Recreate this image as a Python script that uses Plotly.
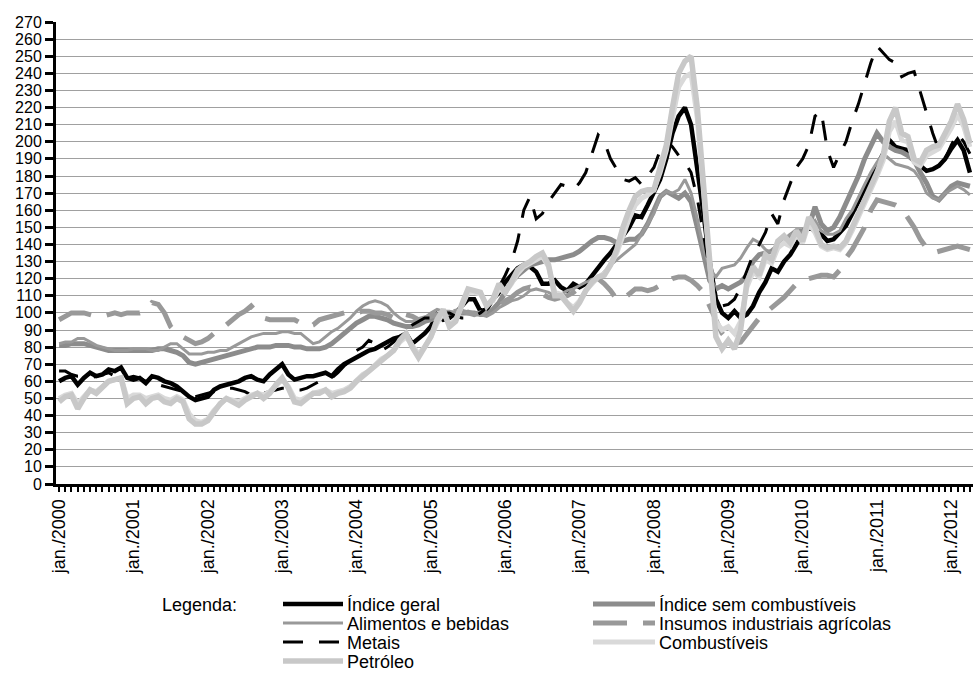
import plotly.graph_objects as go

# ---------------- data ----------------
months_pt = ['jan.', 'fev.', 'mar.', 'abr.', 'mai.', 'jun.', 'jul.', 'ago.', 'set.', 'out.', 'nov.', 'dez.']
categories = [f"{m}/{y}" for y in range(2000, 2013) for m in months_pt][:148]
tick_labels = [c if c.startswith('jan.') else '' for c in categories]
y_ticks = list(range(0, 271, 10))

indice_geral = [
    60, 62, 63, 58, 62, 65, 63, 64, 67, 66, 68, 62,
    61, 62, 59, 63, 62, 60, 59, 57, 54, 51, 49, 50,
    51, 55, 57, 58, 59, 60, 62, 63, 61, 60, 64, 67,
    70, 64, 61, 62, 63, 63, 64, 65, 63, 67, 70, 72,
    74, 76, 78, 79, 81, 83, 85, 86, 88, 82, 85, 88,
    92, 99, 96, 97, 100, 104, 108, 108, 101, 102, 108, 112,
    118, 122, 126, 128, 127, 124, 117, 117, 119, 115, 113, 117,
    115, 117, 122, 127, 131, 135, 140, 144, 150, 157, 156, 163,
    170, 178, 190, 205, 215, 220, 210, 185, 158, 130, 108, 100,
    97, 101, 97, 99, 104, 112, 118, 126, 124, 130, 134, 140,
    146, 150, 148, 146, 142, 143, 147, 151, 158, 165, 172, 178,
    185, 193, 201, 197, 196, 195, 190, 186, 183, 184, 186, 190,
    196, 201, 195, 182,
]

indice_sem_combustiveis = [
    81, 81, 82, 82, 82, 81, 80, 79, 78, 78, 78, 78,
    78, 78, 78, 78, 79, 79, 78, 77, 75, 71, 70, 71,
    72, 73, 74, 75, 76, 77, 78, 79, 80, 80, 80, 81,
    81, 81, 80, 80, 79, 79, 79, 80, 82, 85, 88, 91,
    94, 96, 98, 98, 97, 96, 94, 93, 92, 92, 93, 95,
    96, 98, 99, 100, 100, 100, 100, 100, 99, 99, 102, 106,
    112, 118, 122, 125, 128, 129, 130, 131, 131, 132, 133, 134,
    136, 139, 142, 144, 144, 143, 141, 142, 143, 143, 146, 152,
    160, 168, 171, 169, 167, 170, 165, 150, 133, 119, 114, 116,
    114, 116, 118, 122, 130, 134, 135, 136, 139, 141, 145, 148,
    148, 150, 162, 152, 148, 150, 156, 164, 172, 180, 190, 198,
    205, 200, 197, 195, 194, 192, 189, 182, 176, 168, 166, 170,
    174, 176, 175, 174,
]

alimentos_bebidas = [
    82, 83, 83, 85, 85, 83, 81, 80, 79, 78, 78, 78,
    79, 79, 79, 78, 78, 80, 82, 82, 79, 76, 76, 76,
    77, 77, 78, 78, 80, 82, 84, 86, 87, 88, 88, 88,
    89, 89, 88, 88, 85, 82, 83, 86, 89, 91, 94, 97,
    101, 104, 106, 107, 106, 104, 100, 97, 95, 95, 95, 97,
    100, 102, 101, 101, 100, 100, 101, 100, 99, 98, 100, 103,
    105, 107, 108, 110, 113, 114, 113, 112, 110, 111, 113, 114,
    116, 118, 119, 120, 124, 128, 131, 134, 137, 140, 146, 152,
    158, 168, 171, 170, 172, 178, 170, 155, 138, 126, 121, 126,
    127, 128, 132, 138, 143, 141, 137, 135, 138, 143, 146, 146,
    147, 150, 154, 148, 146, 146, 148, 155, 160, 168, 175, 182,
    188, 193, 190, 187, 186, 185, 183, 178, 170, 167, 166, 170,
    172, 174, 172, 169,
]

insumos_agricolas = [
    96, 98, 100, 100, 100, 99, 98, 98, 99, 100, 99, 100,
    100, 100, 101, 106, 105, 100, 92, 88, 86, 84, 82, 83,
    85, 88, 91, 93, 96, 99, 101, 104, 100, 97, 96, 96,
    96, 96, 96, 94, 92, 93, 96, 97, 98, 99, 100, 101,
    100, 101, 101, 100, 100, 99, 97, 96, 99, 98, 96, 97,
    98, 99, 100, 100, 101, 101, 100, 99, 100, 101, 102, 104,
    107, 109, 112, 114, 115, 113, 111, 109, 108, 109, 110, 112,
    115, 117, 119, 120, 117, 113, 108, 108, 111, 114, 114, 113,
    114, 116, 118, 120, 121, 121, 119, 116, 112, 104, 95, 88,
    84, 82, 83, 88, 93, 97, 100, 103, 106, 109, 113, 117,
    119, 120, 121, 122, 122, 121, 125, 132, 137, 143, 150, 160,
    166, 165, 164, 163, 161, 156, 150, 143, 138, 135, 136, 137,
    138, 139, 138, 137,
]

metais = [
    66, 66, 64, 63, 63, 62, 63, 64, 65, 63, 61, 62,
    63, 62, 60, 59, 58, 57, 56, 55, 54, 52, 51, 52,
    53, 54, 55, 56, 56, 55, 54, 52, 52, 53, 54, 55,
    56, 56, 55, 55, 56, 58, 60, 61, 62, 65, 69, 72,
    78, 80, 84, 82, 78, 80, 83, 86, 90, 93, 95, 97,
    97, 98, 100, 100, 98, 97, 97, 98, 100, 103, 108, 115,
    122, 130, 142, 160, 168, 155, 158, 165, 170, 175, 174, 172,
    176, 182, 193, 204, 200, 190, 184, 178, 177, 179, 175, 180,
    185, 195, 201, 197, 192, 188, 182, 167, 145, 125, 110, 104,
    105, 108, 115, 125, 134, 140, 147, 158, 152, 166, 175, 185,
    190, 198, 215, 218, 195, 185, 193, 200, 212, 222, 234, 246,
    256, 252, 248, 246, 238, 240, 241, 229, 217, 205, 195, 190,
    198, 205, 200, 193,
]

combustiveis = [
    50, 52, 53, 47, 51, 55, 54, 57, 60, 61, 62, 50,
    52, 52, 50, 51, 52, 50, 49, 51, 49, 41, 37, 36,
    38, 43, 47, 50, 49, 48, 50, 52, 53, 52, 54, 58,
    61, 57, 50, 49, 51, 53, 54, 55, 53, 54, 55, 57,
    61, 64, 66, 70, 73, 75, 78, 83, 86, 81, 76, 80,
    86, 94, 100, 93, 96, 104, 112, 112, 111, 105, 107, 114,
    112, 117, 123, 127, 129, 131, 133, 127, 112, 111, 106, 103,
    107, 113, 117, 121, 123, 128, 135, 146, 155, 163, 167, 169,
    172, 182, 195, 214, 232, 238, 240, 214, 170, 128, 95, 90,
    92, 88, 95, 115, 124, 121, 131, 129, 138, 141, 139, 146,
    141, 152, 147, 139, 137, 138, 137, 141, 148, 156, 164, 171,
    180, 189, 206, 212, 201, 200, 188, 186, 192, 194, 196, 202,
    208, 216, 209, 197,
]

petroleo = [
    48, 51, 52, 44, 50, 55, 53, 56, 60, 61, 62, 47,
    50, 51, 47, 50, 51, 48, 47, 50, 48, 38, 35, 35,
    37, 42, 47, 50, 48, 46, 49, 51, 53, 50, 53, 58,
    62, 56, 48, 47, 50, 53, 53, 55, 51, 53, 54, 56,
    60, 63, 66, 70, 73, 75, 78, 84, 88, 80, 74, 80,
    86, 96, 102, 92, 95, 105, 114, 113, 112, 104, 108, 117,
    112, 118, 125, 128, 130, 133, 135, 128, 110, 110, 105, 101,
    106, 113, 118, 121, 122, 128, 137, 150, 160, 168, 171, 172,
    172, 184, 198, 220, 240, 247, 250, 220, 172, 125, 86, 79,
    84, 79, 90, 118, 127, 122, 134, 131, 142, 145, 141, 148,
    142, 156, 150, 140, 138, 139, 138, 142, 150, 158, 166, 174,
    182, 192, 212, 220, 205, 203, 190, 188, 195, 197, 198, 205,
    212, 222, 213, 199,
]

series_names = [
    'Índice geral', 'Índice sem combustíveis', 'Alimentos e bebidas',
    'Insumos industriais agrícolas', 'Metais', 'Combustíveis', 'Petróleo',
]
series_values = [
    indice_geral, indice_sem_combustiveis, alimentos_bebidas,
    insumos_agricolas, metais, combustiveis, petroleo,
]

# ---------------- styles ----------------
styles = {
    'Índice geral': dict(color='#000000', width=4.5, dash='solid'),
    'Índice sem combustíveis': dict(color='#8c8c8c', width=5, dash='solid'),
    'Alimentos e bebidas': dict(color='#999999', width=3, dash='solid'),
    'Insumos industriais agrícolas': dict(color='#999999', width=5, dash='34px,16px'),
    'Metais': dict(color='#000000', width=3, dash='20px,16px'),
    'Combustíveis': dict(color='#d9d9d9', width=5, dash='solid'),
    'Petróleo': dict(color='#c8c8c8', width=5.5, dash='solid'),
}
# legend layout: (column, row)
legend_pos = {
    'Índice geral': (0, 0), 'Alimentos e bebidas': (0, 1), 'Metais': (0, 2), 'Petróleo': (0, 3),
    'Índice sem combustíveis': (1, 0), 'Insumos industriais agrícolas': (1, 1), 'Combustíveis': (1, 2),
}

FONT = 'Liberation Sans, Arial, Helvetica, sans-serif'
W, H = 973, 675
ML, MR, MT, MB = 56, 0, 22, 191
PW, PH = W - ML - MR, H - MT - MB


def xp(px):
    return (px - ML) / PW


def yp(py):
    return (H - MB - py) / PH


fig = go.Figure()
for name, vals in zip(series_names, series_values):
    st = styles[name]
    fig.add_trace(go.Scatter(
        x=categories, y=vals, mode='lines', name=name, showlegend=False,
        line=dict(color=st['color'], width=st['width'], dash=st['dash']),
        hoverinfo='skip',
    ))

# manual legend (samples + labels)
shapes = []
annotations = [dict(
    text='Legenda:', x=xp(160), y=yp(605), xref='paper', yref='paper',
    xanchor='left', yanchor='middle', showarrow=False,
    font=dict(family=FONT, size=18, color='#000000'),
)]
col_x = [(283, 343, 345), (593, 655, 657)]
row_y = [604, 623, 642, 661]
for name in series_names:
    c, r = legend_pos[name]
    x0, x1, xt = col_x[c]
    st = styles[name]
    shapes.append(dict(
        type='line', xref='paper', yref='paper',
        x0=xp(x0), x1=xp(x1), y0=yp(row_y[r]), y1=yp(row_y[r]),
        line=dict(color=st['color'], width=st['width'], dash=st['dash']),
    ))
    annotations.append(dict(
        text=name, x=xp(xt), y=yp(row_y[r] + 1), xref='paper', yref='paper',
        xanchor='left', yanchor='middle', showarrow=False,
        font=dict(family=FONT, size=18, color='#000000'),
    ))

fig.update_layout(
    width=W, height=H,
    margin=dict(l=ML, r=MR, t=MT, b=MB, pad=0),
    paper_bgcolor='white', plot_bgcolor='white',
    font=dict(family=FONT, size=18, color='#000000'),
    shapes=shapes, annotations=annotations,
    showlegend=False,
)
fig.update_xaxes(
    type='category', categoryorder='array', categoryarray=categories,
    range=[-0.5, len(categories) - 0.5],
    tickmode='array', tickvals=categories, ticktext=tick_labels,
    tickangle=-90, tickfont=dict(family=FONT, size=18, color='#000000'),
    ticks='outside', ticklen=5, tickwidth=2, tickcolor='#000000',
    showline=True, linecolor='#000000', linewidth=3,
    showgrid=False, zeroline=False,
)
fig.update_yaxes(
    range=[0, 270], tickmode='array', tickvals=y_ticks,
    tickfont=dict(family=FONT, size=16, color='#000000'),
    ticks='outside', ticklen=8, tickwidth=3, tickcolor='#000000',
    showline=True, linecolor='#000000', linewidth=3,
    showgrid=True, gridcolor='#a0a0a0', gridwidth=1,
    zeroline=False,
)

fig.write_html(
    "out.html",
    config={'displayModeBar': False},
    post_script="document.body.style.margin='0';document.body.style.overflow='hidden';",
)
